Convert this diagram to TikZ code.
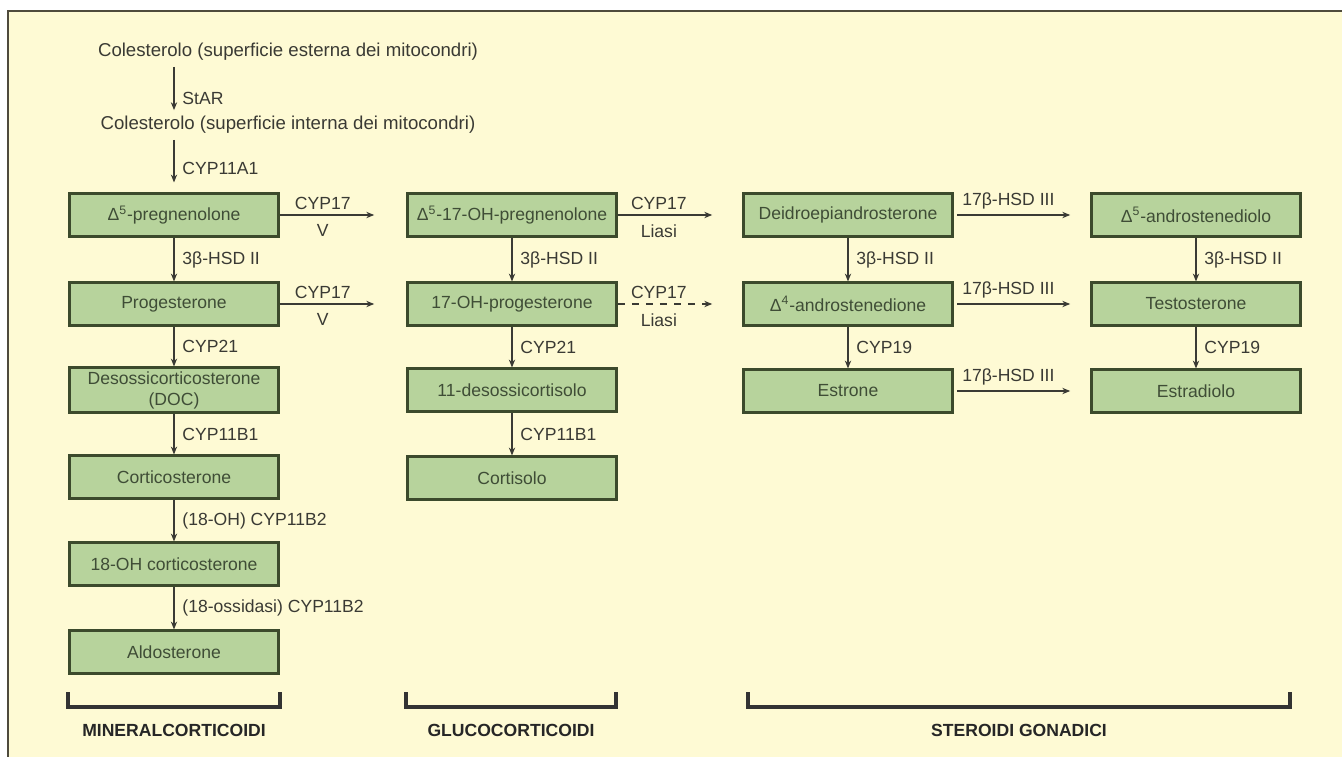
\documentclass[tikz,border=0pt]{standalone}
\usepackage{fontspec}
\setmainfont{Liberation Sans}
\usetikzlibrary{arrows.meta}
\definecolor{cream}{HTML}{FEFAD4}
\definecolor{boxgreen}{HTML}{B7D39C}
\definecolor{boxline}{HTML}{3C4A2C}
\definecolor{inkgray}{HTML}{3A3A34}
\definecolor{boxtext}{HTML}{3F4D36}
\definecolor{framecol}{HTML}{4F4B3C}
\begin{document}
\begin{tikzpicture}[x=0.02cm, y=-0.02cm,
    every node/.style={font=\fontsize{10}{12}\selectfont, text=inkgray},
    box/.style={draw=boxline, fill=boxgreen, line width=1.5pt, minimum width=4.18cm, minimum height=0.85cm, align=center, text=boxtext, inner sep=2pt},
    arrow/.style={-{Stealth[length=4.5pt,width=3.6pt]}, draw=inkgray, line width=0.6pt},
    lbl/.style={right, xshift=3pt, inner sep=1.5pt},
    up/.style={inner sep=1.5pt, above=1.5pt},
    down/.style={inner sep=1.5pt, below=3.5pt},
    grp/.style={font=\fontsize{10}{12}\selectfont\bfseries, text=black!85},
    bracket/.style={line width=2.2pt, draw=black!80}
]
    \useasboundingbox (0,0) rectangle (1342,757);
    \fill[white] (0,0) rectangle (1342,757);
    \fill[cream] (8,11) rectangle (1342,757);
    \draw[framecol, line width=1.5pt] (8,757) -- (8,11) -- (1342,11);

    % colesterolo
    \node[font=\fontsize{10.6}{12}\selectfont] (chol1) at (288,52) {Colesterolo (superficie esterna dei mitocondri)};
    \node[font=\fontsize{10.6}{12}\selectfont] (chol2) at (288,125) {Colesterolo (superficie interna dei mitocondri)};

    % mineralcorticoidi
    \node[box] (preg) at (174,215) {Δ\textsuperscript{5}-pregnenolone};
    \node[box] (prog) at (174,304) {Progesterone};
    \node[box] (doc) at (174,390) {Desossicorticosterone\\(DOC)};
    \node[box] (cortico) at (174,477) {Corticosterone};
    \node[box] (ohcortico) at (174,564) {18-OH corticosterone};
    \node[box] (aldo) at (174,652) {Aldosterone};

    % glucocorticoidi
    \node[box] (ohpreg) at (512,215) {Δ\textsuperscript{5}-17-OH-pregnenolone};
    \node[box] (ohprog) at (512,304) {17-OH-progesterone};
    \node[box] (desoxy) at (512,390) {11-desossicortisolo};
    \node[box] (cortisol) at (512,478) {Cortisolo};

    % steroidi gonadici
    \node[box] (dhea) at (848,215) {Deidroepiandrosterone};
    \node[box] (andione) at (848,304) {Δ\textsuperscript{4}-androstenedione};
    \node[box] (estrone) at (848,391) {Estrone};
    \node[box] (adiol) at (1196,215) {Δ\textsuperscript{5}-androstenediolo};
    \node[box] (testo) at (1196,304) {Testosterone};
    \node[box] (estradiol) at (1196,391) {Estradiolo};

    % vertical steps
    \draw[arrow] (chol1.south -| preg.north) -- node[lbl, pos=0.72] {StAR} (chol2.north -| preg.north);
    \draw[arrow, shorten >=0.2cm] (chol2.south -| preg.north) -- node[lbl, pos=0.55] {CYP11A1} (preg);
    \draw[arrow] (preg) -- node[lbl] {3β-HSD II} (prog);
    \draw[arrow] (prog) -- node[lbl] {CYP21} (doc);
    \draw[arrow] (doc) -- node[lbl] {CYP11B1} (cortico);
    \draw[arrow] (cortico) -- node[lbl] {(18-OH) CYP11B2} (ohcortico);
    \draw[arrow] (ohcortico) -- node[lbl] {(18-ossidasi) CYP11B2} (aldo);
    \draw[arrow] (ohpreg) -- node[lbl] {3β-HSD II} (ohprog);
    \draw[arrow] (ohprog) -- node[lbl] {CYP21} (desoxy);
    \draw[arrow] (desoxy) -- node[lbl] {CYP11B1} (cortisol);
    \draw[arrow] (dhea) -- node[lbl] {3β-HSD II} (andione);
    \draw[arrow] (andione) -- node[lbl] {CYP19} (estrone);
    \draw[arrow] (adiol) -- node[lbl] {3β-HSD II} (testo);
    \draw[arrow] (testo) -- node[lbl] {CYP19} (estradiol);

    % horizontal steps
    \draw[arrow, shorten >=0.64cm] (preg) -- node[up, pos=0.34] {CYP17} node[down, pos=0.34] {V} (ohpreg);
    \draw[arrow, shorten >=0.64cm] (prog) -- node[up, pos=0.34] {CYP17} node[down, pos=0.34] {V} (ohprog);
    \draw[arrow, shorten >=0.6cm] (ohpreg) -- node[up, pos=0.33] {CYP17} node[down, pos=0.33] {Liasi} (dhea);
    \draw[arrow, dashed, dash pattern=on 4pt off 4pt, shorten >=0.6cm] (ohprog) -- node[up, pos=0.33] {CYP17} node[down, pos=0.33] {Liasi} (andione);
    \draw[arrow, shorten <=2pt, shorten >=0.4cm] (dhea) -- node[up, pos=0.4] {17β-HSD III} (adiol);
    \draw[arrow, shorten <=2pt, shorten >=0.4cm] (andione) -- node[up, pos=0.4] {17β-HSD III} (testo);
    \draw[arrow, shorten <=2pt, shorten >=0.4cm] (estrone) -- node[up, pos=0.4] {17β-HSD III} (estradiol);

    % gruppi
    \draw[bracket] (68,692) |- (280,707) -- (280,692);
    \draw[bracket] (406,692) |- (616,707) -- (616,692);
    \draw[bracket] (748,692) |- (1290,707) -- (1290,692);
    \node[grp] (mineral) at (174,730) {MINERALCORTICOIDI};
    \node[grp] (gluco) at (511,730) {GLUCOCORTICOIDI};
    \node[grp] (gonad) at (1019,730) {STEROIDI GONADICI};
\end{tikzpicture}
\end{document}
